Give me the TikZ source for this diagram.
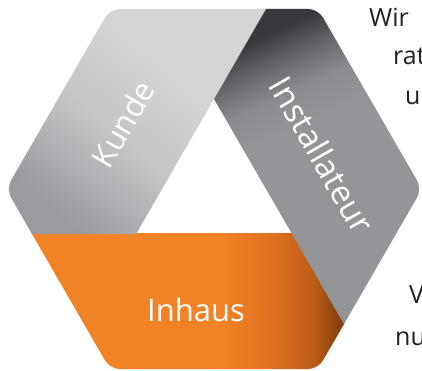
\documentclass[tikz,border=0pt]{standalone}
\usepackage{fontspec}
\setmainfont{Open Sans}
\usetikzlibrary{calc}
\definecolor{kA}{HTML}{9A9B9F}
\definecolor{kB}{HTML}{C4C5C7}
\definecolor{kC}{HTML}{D3D4D6}
\definecolor{iA}{HTML}{939598}
\definecolor{iB}{HTML}{8A8C8F}
\definecolor{iC}{HTML}{626366}
\definecolor{iD}{HTML}{38393C}
\definecolor{oA}{HTML}{F28226}
\definecolor{oB}{HTML}{E0711F}
\definecolor{oC}{HTML}{B95B18}
\definecolor{oD}{HTML}{7A3B0B}
\definecolor{txt}{HTML}{231F20}
\pgfdeclareverticalshading{kundesh}{100bp}{color(0bp)=(kA); color(25bp)=(kA); color(45bp)=(kB); color(62bp)=(kC); color(100bp)=(kC)}
\pgfdeclareverticalshading{instsh}{100bp}{color(0bp)=(iA); color(25bp)=(iA); color(58bp)=(iA); color(64bp)=(iB); color(70bp)=(iC); color(75bp)=(iD); color(100bp)=(iD)}
\pgfdeclarehorizontalshading{orsh}{100bp}{color(0bp)=(oA); color(25bp)=(oA); color(57bp)=(oA); color(64.5bp)=(oB); color(70.6bp)=(oC); color(75bp)=(oD); color(100bp)=(oD)}
\tikzset{
  bandlabel/.style={text=white, font=\fontsize{31}{36}\selectfont, inner sep=0pt},
  sidetext/.style={text=txt, font=\fontsize{25}{30}\selectfont, inner sep=0pt, anchor=base west}
}
\begin{document}
\begin{tikzpicture}[x=1pt,y=-1pt]
\useasboundingbox (0,0) rectangle (422,371);
\clip (0,0) rectangle (422,371);
% hexagon corners
\coordinate (L) at (6,189);
\coordinate (TL) at (110,8.9);
\coordinate (TR) at (318,8.9);
\coordinate (Rv) at (422,189);
\coordinate (BR) at (318,369.1);
\coordinate (BL) at (110,369.1);
% band break points
\coordinate (P1) at (266,8.9);
\coordinate (P2) at (344,324.1);
\coordinate (P3) at (32,234);
\coordinate (A) at (214,99);
\coordinate (B) at (136.1,234);
\coordinate (C) at (292,234);
\begin{scope}
\clip[rounded corners=10pt] (L)--(TL)--(TR)--(Rv)--(BR)--(BL)--cycle;
% orange (Inhaus), slightly extended under its neighbours
\shade[shading=orsh] (0,233) -- ($(C)+(1.2,-1)$) -- ($(P2)+(1.5,0)$) -- (BR) -- (BL) -- (0,371) -- cycle;
% Installateur
\shade[shading=instsh, shading angle=25] ($(P1)+(-1.5,0)$) -- (TR) -- (Rv) -- (P2) -- (A) -- ($(A)+(-1.5,0)$) -- cycle;
% Kunde
\shade[shading=kundesh, shading angle=-40] (L) -- (TL) -- (P1) -- (B) -- (P3) -- cycle;
\end{scope}
\node[bandlabel, rotate=60] (kunde) at (123,124) {Kunde};
\node[bandlabel, rotate=-60, font=\fontsize{33}{38}\selectfont] (inst) at (322,155) {Installateur};
\node[bandlabel, anchor=base] (inhaus) at (196,321) {Inhaus};
\node[sidetext] (t1) at (369,27) {Wir};
\node[sidetext] (t2) at (393,65) {rat};
\node[sidetext] (t3) at (405,105) {u};
\node[sidetext] (t4) at (409,303) {V};
\node[sidetext] (t5) at (395,345) {nu};
\end{tikzpicture}
\end{document}
